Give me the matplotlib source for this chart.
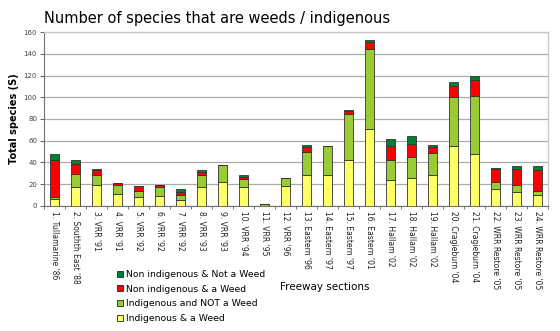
import matplotlib.pyplot as plt
import numpy as np
from matplotlib.lines import Line2D

sections = ["1. Tullamarine '86", "2. Southth East '88", "3. VRR '91", "4. VRR '91",
            "5. VRR '92", "6. VRR '92", "7. VRR '92", "8. VRR '93", "9. VRR '93",
            "10. VRR '94", "11. VRR '95", "12. VRR '96", "13. Eastern '96",
            "14. Eastern '97", "15. Eastern '97", "16. Eastern '01", "17. Hallam '02",
            "18. Hallam '02", "19. Hallam '02", "20. Cragieburn '04", "21. Cragieburn '04",
            "22. WRR Restore '05", "23. WRR Restore '05", "24. WRR Restore '05"]

# species counts per section, stacked bottom -> top
indig_weed     = [6, 17, 19, 11, 8, 9, 5, 17, 22, 17, 0, 18, 28, 28, 42, 71, 24, 26, 28, 55, 48, 16, 13, 10]
indig_not_weed = [2, 12, 9, 8, 6, 8, 5, 11, 16, 8, 2, 8, 22, 27, 43, 73, 18, 19, 21, 45, 53, 6, 6, 4]
non_indig_weed = [34, 10, 5, 2, 4, 2, 3, 3, 0, 2, 0, 0, 4, 0, 2, 7, 13, 12, 5, 10, 15, 12, 15, 19]
non_indig_not  = [6, 3, 1, 0, 0, 0, 3, 2, 0, 1, 0, 0, 2, 0, 1, 2, 7, 7, 2, 4, 4, 1, 3, 4]

series = [
    (indig_weed, '#ffff66', 'Indigenous & a Weed'),
    (indig_not_weed, '#99cc33', 'Indigenous and NOT a Weed'),
    (non_indig_weed, '#ff0000', 'Non indigenous & a Weed'),
    (non_indig_not, '#008033', 'Non indigenous & Not a Weed'),
]

fig = plt.figure(figsize=(5.6, 3.31), dpi=100)
ax = fig.add_axes([0.0786, 0.378, 0.9004, 0.525])

x = np.arange(len(sections))
bottom = np.zeros(len(sections))
for vals, col, name in series:
    vals = np.array(vals, dtype=float)
    ax.bar(x, vals, width=0.43, bottom=bottom, color=col, edgecolor='#333333',
           linewidth=0.6, zorder=3)
    bottom += vals

ax.set_xlim(-0.5, len(sections) - 0.5)
ax.set_ylim(0, 160)
ax.set_yticks(np.arange(0, 161, 20))
ax.yaxis.grid(True, color='#ababab', linewidth=0.9, zorder=0)
ax.tick_params(axis='y', labelsize=5, colors='#444444', length=3, width=0.6, pad=2)

ax.set_xticks(x)
ax.set_xticklabels(sections, rotation=270, fontsize=5.5, color='#222222')
ax.tick_params(axis='x', length=0, pad=4)
ax.set_xticks(np.arange(-0.5, len(sections)), minor=True)
ax.tick_params(axis='x', which='minor', length=2, width=0.6, color='#666666')

for side in ['top', 'right']:
    ax.spines[side].set_color('#c8c8c8')
    ax.spines[side].set_linewidth(1.0)
ax.spines['left'].set_color('#707070')
ax.spines['bottom'].set_color('#707070')

ax.set_ylabel('Total species (S)', fontsize=7, fontweight='bold', labelpad=9)
ax.yaxis.set_label_coords(-0.05, 0.5)

fig.text(0.0786, 0.945, 'Number of species that are weeds / indigenous', fontsize=10.5,
         ha='left', va='center')
fig.text(0.58, 0.133, 'Freeway sections', fontsize=7.5, ha='center', va='center')

handles = [Line2D([], [], marker='s', linestyle='none', markersize=5,
                  markerfacecolor=col, markeredgecolor='#222222', markeredgewidth=0.6)
           for _, col, _ in series[::-1]]
labels = [name for _, _, name in series[::-1]]
fig.legend(handles, labels, loc='upper left', bbox_to_anchor=(0.2, 0.198),
           frameon=False, fontsize=6.7, handlelength=0.8, handletextpad=0.2,
           labelspacing=0.6, borderpad=0)

fig.savefig('out.png', dpi=100)
